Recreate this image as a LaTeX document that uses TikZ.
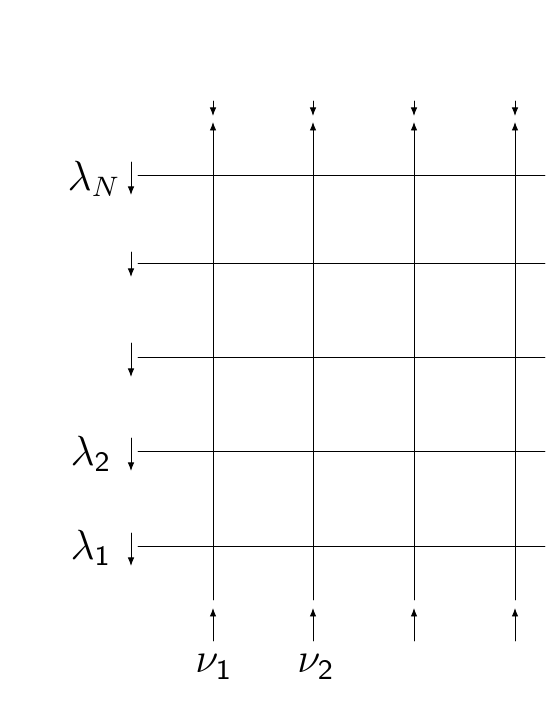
\documentclass[tikz,border=0pt]{standalone}
\usetikzlibrary{arrows.meta}

\begin{document}
\begin{tikzpicture}[line cap=round, line join=round, line width=0.25pt,
  tip/.style={-{Latex[length=0.85mm,width=0.65mm]}},
  lbl/.style={font=\large}]

\useasboundingbox (0,0) rectangle (5.45,7.05);

% Define coordinates
% Columns at x = 2.13, 3.13, 4.14, 5.15 ; rows from bottom to top
\coordinate (V1b) at (2.13,1.05); \coordinate (V1t) at (2.13,5.83);
\coordinate (V2b) at (3.13,1.05); \coordinate (V2t) at (3.13,5.83);
\coordinate (V3b) at (4.14,1.05); \coordinate (V3t) at (4.14,5.83);
\coordinate (V4b) at (5.15,1.05); \coordinate (V4t) at (5.15,5.83);

\coordinate (H1l) at (1.38,1.59); \coordinate (H1r) at (5.45,1.59);
\coordinate (H2l) at (1.38,2.54); \coordinate (H2r) at (5.45,2.54);
\coordinate (H3l) at (1.38,3.48); \coordinate (H3r) at (5.45,3.48);
\coordinate (H4l) at (1.38,4.42); \coordinate (H4r) at (5.45,4.42);
\coordinate (HNl) at (1.38,5.30); \coordinate (HNr) at (5.45,5.30);

% Draw the vertical lines with their upward tips
\draw[tip] (V1b) -- (V1t);
\draw[tip] (V2b) -- (V2t);
\draw[tip] (V3b) -- (V3t);
\draw[tip] (V4b) -- (V4t);

% Draw the horizontal lines
\draw (H1l) -- (H1r);
\draw (H2l) -- (H2r);
\draw (H3l) -- (H3r);
\draw (H4l) -- (H4r);
\draw (HNl) -- (HNr);

% Small arrows coming in from the top
\coordinate (D1s) at (2.13,6.04); \coordinate (D1e) at (2.13,5.89);
\coordinate (D2s) at (3.13,6.04); \coordinate (D2e) at (3.13,5.89);
\coordinate (D3s) at (4.14,6.04); \coordinate (D3e) at (4.14,5.89);
\coordinate (D4s) at (5.15,6.04); \coordinate (D4e) at (5.15,5.89);
\draw[tip] (D1s) -- (D1e);
\draw[tip] (D2s) -- (D2e);
\draw[tip] (D3s) -- (D3e);
\draw[tip] (D4s) -- (D4e);

% Small arrows coming in from the bottom
\coordinate (U1s) at (2.13,0.64); \coordinate (U1e) at (2.13,0.97);
\coordinate (U2s) at (3.13,0.64); \coordinate (U2e) at (3.13,0.97);
\coordinate (U3s) at (4.14,0.64); \coordinate (U3e) at (4.14,0.97);
\coordinate (U4s) at (5.15,0.64); \coordinate (U4e) at (5.15,0.97);
\draw[tip] (U1s) -- (U1e);
\draw[tip] (U2s) -- (U2e);
\draw[tip] (U3s) -- (U3e);
\draw[tip] (U4s) -- (U4e);

% Downward arrows on the left of each row
\coordinate (L1s) at (1.31,1.72); \coordinate (L1e) at (1.31,1.39);
\coordinate (L2s) at (1.31,2.67); \coordinate (L2e) at (1.31,2.34);
\coordinate (L3s) at (1.31,3.62); \coordinate (L3e) at (1.31,3.28);
\coordinate (L4s) at (1.31,4.53); \coordinate (L4e) at (1.31,4.28);
\coordinate (LNs) at (1.31,5.43); \coordinate (LNe) at (1.31,5.10);
\draw[tip] (L1s) -- (L1e);
\draw[tip] (L2s) -- (L2e);
\draw[tip] (L3s) -- (L3e);
\draw[tip] (L4s) -- (L4e);
\draw[tip] (LNs) -- (LNe);

% Add labels
\node[lbl] (lam1) at (0.91,1.57) {$\lambda_{\mathsf{1}}$};
\node[lbl] (lam2) at (0.91,2.51) {$\lambda_{\mathsf{2}}$};
\node[lbl] (lamN) at (0.94,5.26) {$\lambda_N$};
\node[lbl] (nu1) at (2.14,0.38) {$\nu_{\mathsf{1}}$};
\node[lbl] (nu2) at (3.16,0.38) {$\nu_{\mathsf{2}}$};

\end{tikzpicture}
\end{document}
